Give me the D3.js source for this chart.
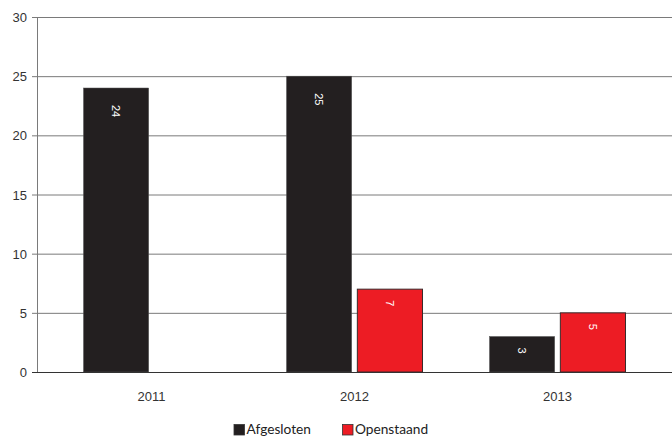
<!DOCTYPE html>
<html><head><meta charset="utf-8">
<script src="https://cdn.jsdelivr.net/npm/d3@7"></script>
<style>body{margin:0;background:#fff}svg{display:block}</style>
</head><body>
<svg id="c" width="672" height="436"></svg>
<script>
const categories = ["2011", "2012", "2013"];
const seriesNames = ["Afgesloten", "Openstaand"];
const afgesloten = [24, 25, 3];
const openstaand = [0, 7, 5];
const yTicks = [0, 5, 10, 15, 20, 25, 30];
const colors = ["#231f20", "#ed1c24"];

(function () {
const svg = d3.select("#c");
const pLeft = 37, pRight = 672, pTop = 17, pBottom = 372;
const y = d3.scaleLinear().domain([0, 30]).range([pBottom, pTop]);
const x = d3.scaleBand().domain(categories).range([50, 659]).paddingInner(0.33).paddingOuter(0.165);
const xs = d3.scaleBand().domain(seriesNames).range([0, x.bandwidth()]).paddingInner(0.08);

// gridlines
svg.append("g").selectAll("line").data(yTicks.filter(d => d > 0)).join("line")
  .attr("x1", pLeft - 5).attr("x2", pRight).attr("y1", d => y(d) + 0.5).attr("y2", d => y(d) + 0.5)
  .attr("stroke", "#7a7a7a").attr("stroke-width", 1);

// y axis labels
svg.append("g").selectAll("text").data(yTicks).join("text")
  .attr("x", 27).attr("y", d => y(d) + 5).attr("text-anchor", "end")
  .attr("font-family", "Liberation Sans, Arial, sans-serif").attr("font-size", 13).attr("fill", "#333")
  .text(d => d);

const data = [];
categories.forEach((c, i) => {
  data.push({cat: c, s: seriesNames[0], v: afgesloten[i], k: 0});
  data.push({cat: c, s: seriesNames[1], v: openstaand[i], k: 1});
});

svg.append("g").selectAll("rect").data(data).join("rect")
  .attr("x", d => x(d.cat) + xs(d.s)).attr("width", xs.bandwidth())
  .attr("y", d => y(d.v)).attr("height", d => y(0) - y(d.v))
  .attr("fill", d => colors[d.k])
  .attr("stroke", d => d.k === 1 ? "#3a2a2a" : "#555").attr("stroke-width", d => d.k === 1 ? 1 : 0.5);

svg.append("g").selectAll("text").data(data.filter(d => d.v > 0)).join("text")
  .attr("transform", d => `translate(${x(d.cat) + xs(d.s) + xs.bandwidth() / 2 - 4},${y(d.v) + 5 + 6 * String(d.v).length}) rotate(90)`)
  .attr("font-family", "Liberation Sans, Arial, sans-serif").attr("font-size", 11).attr("fill", "#fff")
  .text(d => d.v);

// axes lines
svg.append("line").attr("x1", pLeft + 0.5).attr("x2", pLeft + 0.5).attr("y1", pTop).attr("y2", pBottom)
  .attr("stroke", "#7a7a7a");
svg.append("line").attr("x1", pLeft - 5).attr("x2", pRight).attr("y1", pBottom + 0.5).attr("y2", pBottom + 0.5)
  .attr("stroke", "#333");

// x labels
svg.append("g").selectAll("text").data(categories).join("text")
  .attr("x", d => x(d) + x.bandwidth() / 2).attr("y", 401).attr("text-anchor", "middle")
  .attr("font-family", "Liberation Sans, Arial, sans-serif").attr("font-size", 13).attr("fill", "#333")
  .text(d => d);

// legend
const lg = svg.append("g");
const lx = [234, 342.5];
seriesNames.forEach((s, i) => {
  lg.append("rect").attr("x", lx[i]).attr("y", 424.5).attr("width", 10.5).attr("height", 10.5)
    .attr("fill", colors[i]).attr("stroke", "#333").attr("stroke-width", 0.8);
  lg.append("text").attr("x", lx[i] + 12.5).attr("y", 433.5)
    .attr("font-family", "Lato, sans-serif").attr("font-size", 13.7).attr("fill", "#222").text(s);
});
})();
</script>
</body></html>
